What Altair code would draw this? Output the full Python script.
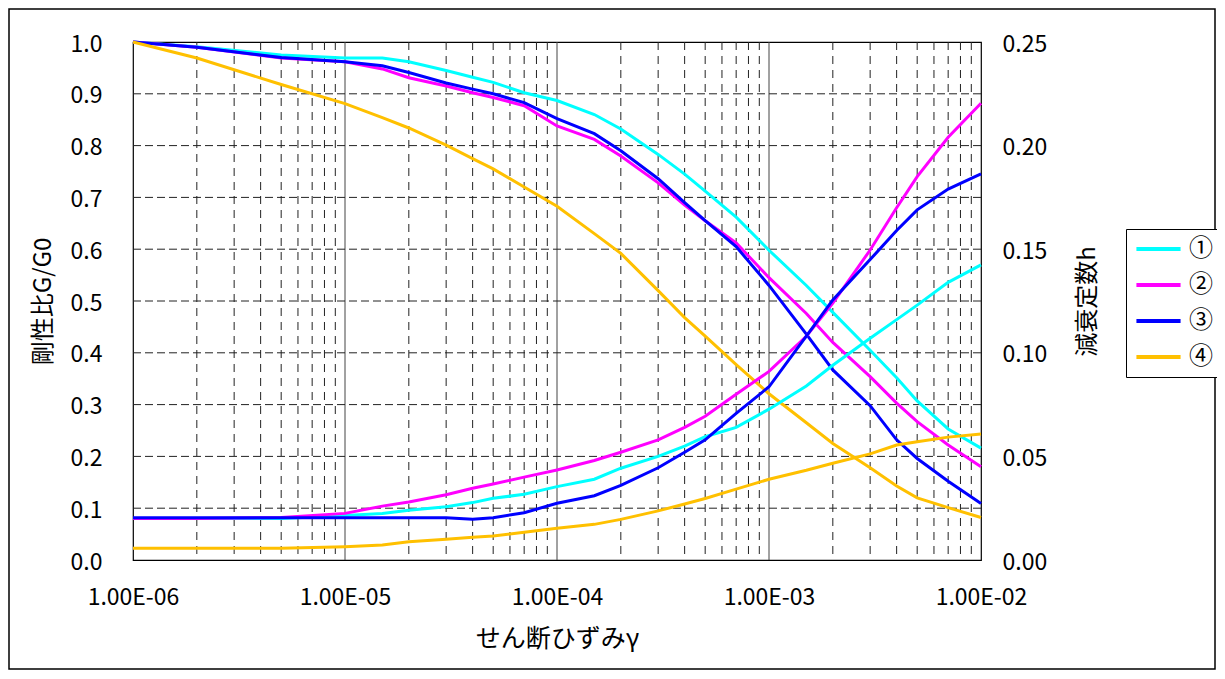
import altair as alt
import pandas as pd

# shear strain gamma
GAMMA = [1e-6, 2e-6, 5e-6, 1e-5, 1.5e-5, 2e-5, 3e-5, 4e-5, 5e-5, 7e-5,
         1e-4, 1.5e-4, 2e-4, 3e-4, 4e-4, 5e-4, 7e-4,
         1e-3, 1.5e-3, 2e-3, 3e-3, 4e-3, 5e-3, 7e-3, 1e-2]

SERIES = ["①", "②", "③", "④"]
COLORS = ["#00FFFF", "#FF00FF", "#0000FF", "#FFC000"]

# stiffness ratio G/G0
G1 = [1.0, 0.991, 0.975, 0.969, 0.969, 0.962, 0.945, 0.932, 0.922, 0.902,
      0.887, 0.860, 0.832, 0.783, 0.745, 0.712, 0.662,
      0.598, 0.530, 0.478, 0.405, 0.352, 0.307, 0.253, 0.216]
G2 = [1.0, 0.990, 0.969, 0.962, 0.948, 0.931, 0.915, 0.902, 0.893, 0.877,
      0.838, 0.812, 0.780, 0.728, 0.685, 0.655, 0.612,
      0.545, 0.476, 0.420, 0.354, 0.303, 0.267, 0.222, 0.180]
G3 = [1.0, 0.990, 0.970, 0.962, 0.954, 0.941, 0.921, 0.909, 0.900, 0.883,
      0.852, 0.823, 0.790, 0.736, 0.690, 0.655, 0.605,
      0.530, 0.436, 0.367, 0.298, 0.232, 0.196, 0.152, 0.109]
G4 = [1.0, 0.969, 0.918, 0.881, 0.854, 0.834, 0.801, 0.775, 0.755, 0.720,
      0.683, 0.630, 0.592, 0.520, 0.468, 0.432, 0.377,
      0.321, 0.265, 0.225, 0.178, 0.143, 0.120, 0.101, 0.082]

# damping ratio h
H1 = [0.020, 0.020, 0.020, 0.0215, 0.0225, 0.024, 0.0257, 0.0277, 0.0298, 0.0317,
      0.0354, 0.039, 0.0443, 0.050, 0.055, 0.0595, 0.064,
      0.0728, 0.084, 0.094, 0.107, 0.116, 0.123, 0.134, 0.1424]
H2 = [0.020, 0.020, 0.0205, 0.0225, 0.026, 0.028, 0.0315, 0.0346, 0.0367, 0.040,
      0.0434, 0.048, 0.052, 0.058, 0.064, 0.0694, 0.080,
      0.091, 0.108, 0.124, 0.1496, 0.170, 0.185, 0.204, 0.2204]
H3 = [0.0204, 0.0204, 0.0204, 0.0204, 0.0204, 0.0204, 0.0204, 0.0197, 0.0204, 0.0228,
      0.0274, 0.031, 0.036, 0.0445, 0.052, 0.058, 0.0708,
      0.0836, 0.108, 0.1255, 0.145, 0.159, 0.169, 0.179, 0.1863]
H4 = [0.0057, 0.0057, 0.0057, 0.0064, 0.0072, 0.0088, 0.010, 0.011, 0.0116, 0.0134,
      0.0153, 0.0172, 0.0196, 0.0237, 0.027, 0.0297, 0.0342,
      0.039, 0.0433, 0.0467, 0.0512, 0.0555, 0.0571, 0.0593, 0.0608]

X_TICKS = [1e-6, 1e-5, 1e-4, 1e-3, 1e-2]
DECADES = [1e-5, 1e-4, 1e-3]
MINOR = [k * d for d in [1e-6, 1e-5, 1e-4, 1e-3] for k in range(2, 10)]
G_TICKS = [0.0, 0.1, 0.2, 0.3, 0.4, 0.5, 0.6, 0.7, 0.8, 0.9, 1.0]
H_TICKS = [0.0, 0.05, 0.10, 0.15, 0.20, 0.25]

FONT = "Noto Sans CJK JP"

rows_g, rows_h = [], []
for s, g, h in zip(SERIES, [G1, G2, G3, G4], [H1, H2, H3, H4]):
    for i, x in enumerate(GAMMA):
        rows_g.append({"gamma": x, "v": g[i], "series": s, "o": i})
        rows_h.append({"gamma": x, "v": h[i], "series": s, "o": i})
df_g = pd.DataFrame(rows_g)
df_h = pd.DataFrame(rows_h)

xscale = alt.Scale(type="log", domain=[1e-6, 1e-2], nice=False)
X_AXIS = alt.Axis(values=X_TICKS, labelExpr="'1.00E-0' + abs(round(log(datum.value)/LN10))",
                  title="せん断ひずみγ", titleFont=FONT, titleFontSize=25, titleFontWeight="normal",
                  titleColor="black", titleY=78, titleBaseline="middle",
                  labelFont=FONT, labelFontSize=23, labelColor="black", labelPadding=26,
                  labelFlush=False, labelOverlap=False, labelBound=False,
                  ticks=False, tickSize=0, domain=False, grid=False)

gscale = alt.Scale(domain=[0, 1], nice=False, zero=False)
G_AXIS = alt.Axis(values=G_TICKS, format=".1f", title="剛性比G/G0", titleFont=FONT,
                  titleFontSize=24, titleFontWeight="normal", titleColor="black",
                  titleAngle=-90, titleX=-90, titleY=259, titleAlign="center", titleBaseline="middle",
                  labelFont=FONT, labelFontSize=23, labelColor="black", labelPadding=31,
                  labelFlush=False, labelOverlap=False, labelBound=False, labelOffset=2,
                  ticks=False, tickSize=0, domain=False, grid=False, orient="left")

hscale = alt.Scale(domain=[0, 0.25], nice=False, zero=False)
H_AXIS = alt.Axis(values=H_TICKS, format=".2f", title="減衰定数h", titleFont=FONT,
                  titleFontSize=24, titleFontWeight="normal", titleColor="black",
                  titleAngle=-90, titleX=106, titleY=259, titleAlign="center", titleBaseline="middle",
                  labelFont=FONT, labelFontSize=23, labelColor="black", labelPadding=21,
                  labelFlush=False, labelOverlap=False, labelBound=False, labelOffset=2,
                  ticks=False, tickSize=0, domain=False, grid=False, orient="right")

color = alt.Color("series:N", scale=alt.Scale(domain=SERIES, range=COLORS),
                  legend=alt.Legend(title=None, orient="none", legendX=993, legendY=187,
                                    strokeColor="black", fillColor="white", padding=8,
                                    symbolType="stroke", symbolSize=1950, symbolStrokeWidth=4,
                                    clipHeight=24,
                                    labelFont=FONT, labelFontSize=24, labelColor="black",
                                    labelOffset=6, rowPadding=12, cornerRadius=0))

minor_rules = alt.Chart(pd.DataFrame({"gamma": MINOR})).mark_rule(
    color="#222", strokeWidth=1, strokeDash=[8, 6]).encode(
    x=alt.X("gamma:Q", scale=xscale, axis=X_AXIS))
decade_rules = alt.Chart(pd.DataFrame({"gamma": DECADES})).mark_rule(
    color="#444", strokeWidth=1).encode(
    x=alt.X("gamma:Q", scale=xscale, axis=X_AXIS))
h_rules = alt.Chart(pd.DataFrame({"v": G_TICKS[1:-1]})).mark_rule(
    color="#222", strokeWidth=1, strokeDash=[8, 4]).encode(
    y=alt.Y("v:Q", scale=gscale, axis=G_AXIS))

g_lines = alt.Chart(df_g).mark_line(strokeWidth=3).encode(
    x=alt.X("gamma:Q", scale=xscale, axis=X_AXIS),
    y=alt.Y("v:Q", scale=gscale, axis=G_AXIS),
    color=color, order="o:Q")

h_lines = alt.Chart(df_h).mark_line(strokeWidth=3).encode(
    x=alt.X("gamma:Q", scale=xscale, axis=X_AXIS),
    y=alt.Y("v:Q", scale=hscale, axis=H_AXIS),
    color=color, order="o:Q")

border = alt.Chart(pd.DataFrame({"a": [0]})).mark_rect(
    fill="transparent", stroke="black", strokeWidth=1.5).encode(
    x=alt.value(-124), x2=alt.value(1082), y=alt.value(-33), y2=alt.value(627))

left = alt.layer(minor_rules, decade_rules, h_rules, g_lines)
chart = alt.layer(left, h_lines, border).resolve_scale(y="independent").properties(
    width=848, height=518,
    padding={"left": 125, "top": 34, "right": 236, "bottom": 111},
    autosize=alt.AutoSizeParams(type="none"),
    background="white",
).configure_view(stroke="black", strokeWidth=1.2)

chart.save("out.html", embed_options={"renderer": "svg", "actions": False})
